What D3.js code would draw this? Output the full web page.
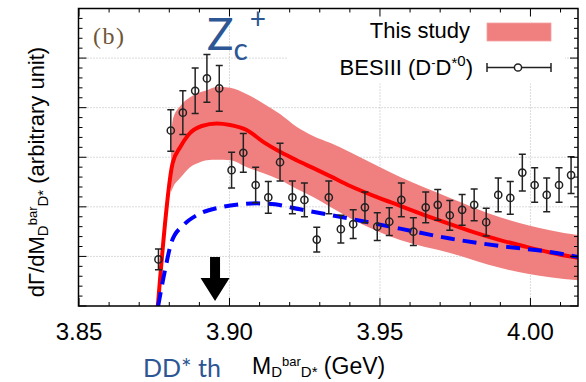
<!DOCTYPE html>
<html>
<head>
<meta charset="utf-8">
<script src="https://cdn.jsdelivr.net/npm/d3@7"></script>
<style>
  body { margin: 0; background: #fff; }
  svg { display: block; }
</style>
</head>
<body>
<svg id="chart" width="586" height="382"></svg>
<script>
// BESIII D-D*0 invariant-mass spectrum (GeV, arbitrary units)
const massBins = [3.8764, 3.8805, 3.8845, 3.8886, 3.8925, 3.8966, 3.9007, 3.9046, 3.9087, 3.9129,
                  3.9168, 3.9209, 3.9249, 3.9290, 3.9330, 3.9370, 3.9411, 3.9450, 3.9491, 3.9531,
                  3.9571, 3.9611, 3.9652, 3.9692, 3.9732, 3.9773, 3.9813, 3.9853, 3.9893, 3.9933,
                  3.9973, 4.0014, 4.0054, 4.0095, 4.0135];
const besValues = [0.94, 3.54, 3.90, 4.34, 4.59, 4.39, 2.74, 3.09, 2.44, 2.19,
                   2.90, 2.19, 2.14, 1.34, 2.19, 1.55, 1.65, 1.99, 1.60, 1.70,
                   2.14, 1.50, 1.99, 2.04, 1.83, 1.94, 2.04, 1.69, 2.24, 2.18,
                   2.69, 2.44, 2.24, 2.44, 2.64];
const besErrors = [0.21, 0.42, 0.44, 0.46, 0.48, 0.46, 0.36, 0.39, 0.36, 0.32,
                   0.38, 0.33, 0.34, 0.25, 0.33, 0.28, 0.29, 0.31, 0.28, 0.28,
                   0.34, 0.28, 0.31, 0.31, 0.30, 0.31, 0.32, 0.28, 0.34, 0.33,
                   0.37, 0.35, 0.34, 0.35, 0.37];

// Model: central curve
const fitMass = [3.8762, 3.8811, 3.8836, 3.8863, 3.8908, 3.8958, 3.9002, 3.9057, 3.9112, 3.9168,
                 3.9223, 3.9279, 3.9334, 3.9401, 3.9484, 3.9567, 3.9650, 3.9733, 3.9816, 3.9899,
                 3.9982, 4.0065, 4.0158];
const fitCentral = [0.00, 2.88, 3.20, 3.45, 3.63, 3.68, 3.65, 3.55, 3.31, 3.11,
                    2.94, 2.78, 2.62, 2.42, 2.21, 2.02, 1.83, 1.65, 1.48, 1.33,
                    1.20, 1.08, 0.97];

// Model: uncertainty band
const bandMass = [3.8806, 3.8813, 3.8836, 3.8869, 3.8902, 3.8925, 3.8959, 3.9002, 3.9058, 3.9111,
                  3.9168, 3.9224, 3.9278, 3.9334, 3.9401, 3.9567, 3.9733, 3.9899, 4.0065, 4.0158];
const bandUpper = [3.49, 3.79, 4.03, 4.21, 4.31, 4.35, 4.42, 4.40, 4.27, 4.09,
                   3.87, 3.61, 3.43, 3.29, 3.10, 2.60, 2.18, 1.79, 1.53, 1.43];
const bandLower = [2.30, 2.40, 2.58, 2.80, 2.90, 2.94, 2.95, 2.94, 2.80, 2.68,
                   2.54, 2.36, 2.20, 2.00, 1.77, 1.33, 1.07, 0.77, 0.58, 0.52];

// Model: background-only (dashed)
const bgMass = [3.8763, 3.8786, 3.8808, 3.8847, 3.8891, 3.8969, 3.9035, 3.9091, 3.9151, 3.9234,
                3.9401, 3.9567, 3.9733, 3.9899, 4.0065, 4.0158];
const bgValues = [0.00, 0.73, 1.30, 1.63, 1.83, 1.99, 2.05, 2.07, 2.05, 1.95,
                  1.76, 1.56, 1.36, 1.21, 1.09, 0.99];

const xMajorTicks = [3.85, 3.90, 3.95, 4.00];
const xTickLabels = ["3.85", "3.90", "3.95", "4.00"];
const yMajorTicks = [0, 1, 2, 3, 4, 5, 6];
const arrowMass = 3.8952;

const svg = d3.select("#chart");
const plotLeft = 78.5, plotRight = 578, plotTop = 8.5, plotBottom = 306;

const x = d3.scaleLinear().domain([3.85, 4.0158]).range([plotLeft + 0.5, plotRight]);
const y = d3.scaleLinear().domain([0, 6]).range([plotBottom, plotTop]);

svg.append("defs").append("clipPath").attr("id", "plotClip")
  .append("rect").attr("x", plotLeft).attr("y", plotTop)
  .attr("width", plotRight - plotLeft).attr("height", plotBottom - plotTop);

// grid
const grid = svg.append("g").attr("stroke", "#b5b5b5").attr("stroke-width", 1)
  .attr("stroke-dasharray", "1,2");
xMajorTicks.slice(1).forEach(t => {
  grid.append("line").attr("x1", x(t)).attr("x2", x(t)).attr("y1", plotTop).attr("y2", plotBottom);
});
yMajorTicks.slice(1, -1).forEach(t => {
  grid.append("line").attr("x1", plotLeft).attr("x2", plotRight).attr("y1", y(t)).attr("y2", y(t));
});

// legend background hides the grid behind the key
svg.append("rect").attr("x", 288).attr("y", plotTop + 1).attr("width", 277).attr("height", 74)
  .attr("fill", "#fff");

const plot = svg.append("g").attr("clip-path", "url(#plotClip)");

// uncertainty band
const bandData = bandMass.map((m, i) => ({ m, hi: bandUpper[i], lo: bandLower[i] }));
plot.append("path").datum(bandData)
  .attr("fill", "#f08080")
  .attr("d", d3.area().x(d => x(d.m)).y0(d => y(d.lo)).y1(d => y(d.hi)).curve(d3.curveMonotoneX));

// central curve
plot.append("path").datum(fitMass.map((m, i) => [m, fitCentral[i]]))
  .attr("fill", "none").attr("stroke", "#ff0000").attr("stroke-width", 4)
  .attr("stroke-linejoin", "round")
  .attr("d", d3.line().x(d => x(d[0])).y(d => y(d[1])).curve(d3.curveMonotoneX));

// dashed curve
plot.append("path").datum(bgMass.map((m, i) => [m, bgValues[i]]))
  .attr("fill", "none").attr("stroke", "#0000ff").attr("stroke-width", 4)
  .attr("stroke-dasharray", "14,8")
  .attr("d", d3.line().x(d => x(d[0])).y(d => y(d[1])).curve(d3.curveMonotoneX));

// data points with error bars
const pts = plot.append("g").attr("stroke", "#222").attr("stroke-width", 1.5).attr("fill", "none");
massBins.forEach((m, i) => {
  const cx = x(m), v = besValues[i], e = besErrors[i];
  pts.append("line").attr("x1", cx).attr("x2", cx).attr("y1", y(v + e)).attr("y2", y(v - e));
  pts.append("line").attr("x1", cx - 3.5).attr("x2", cx + 3.5).attr("y1", y(v + e)).attr("y2", y(v + e));
  pts.append("line").attr("x1", cx - 3.5).attr("x2", cx + 3.5).attr("y1", y(v - e)).attr("y2", y(v - e));
  pts.append("circle").attr("cx", cx).attr("cy", y(v)).attr("r", 3.6);
});

// arrow marking the peak position
const ax = x(arrowMass);
svg.append("path")
  .attr("d", `M${ax - 5},257 L${ax + 5},257 L${ax + 5},278 L${ax + 14.5},278 L${ax},301 L${ax - 14.5},278 L${ax - 5},278 Z`)
  .attr("fill", "#000");

// axis ticks (all four sides)
const ticks = svg.append("g").attr("stroke", "#000").attr("stroke-width", 1);
d3.range(3.85, 4.0158, 0.01).forEach(t => {
  const major = xMajorTicks.some(mt => Math.abs(mt - t) < 1e-6);
  const len = major ? 8 : 4;
  ticks.append("line").attr("x1", x(t)).attr("x2", x(t)).attr("y1", plotBottom).attr("y2", plotBottom - len);
  ticks.append("line").attr("x1", x(t)).attr("x2", x(t)).attr("y1", plotTop).attr("y2", plotTop + len);
});
d3.range(0, 6.01, 0.2).forEach(t => {
  const major = Math.abs(t - Math.round(t)) < 1e-6;
  const len = major ? 8 : 4;
  ticks.append("line").attr("x1", plotLeft).attr("x2", plotLeft + len).attr("y1", y(t)).attr("y2", y(t));
  ticks.append("line").attr("x1", plotRight).attr("x2", plotRight - len).attr("y1", y(t)).attr("y2", y(t));
});

// frame
svg.append("rect").attr("x", plotLeft).attr("y", plotTop)
  .attr("width", plotRight - plotLeft).attr("height", plotBottom - plotTop)
  .attr("fill", "none").attr("stroke", "#000").attr("stroke-width", 1.5);

// tick labels
svg.append("g").selectAll("text").data(xMajorTicks).join("text")
  .attr("x", d => x(d)).attr("y", 340)
  .attr("text-anchor", "middle")
  .attr("font-family", "Liberation Sans, Arial, sans-serif").attr("font-size", 24)
  .attr("fill", "#000")
  .text((d, i) => xTickLabels[i]);

// x-axis title
const xt = svg.append("text").attr("x", 252).attr("y", 374)
  .attr("font-family", "Liberation Sans, Arial, sans-serif").attr("font-size", 23).attr("fill", "#000");
xt.append("tspan").text("M");
xt.append("tspan").attr("dy", 3).attr("font-size", 15).text("D");
xt.append("tspan").attr("dy", -11).attr("font-size", 13).text("bar");
xt.append("tspan").attr("dy", 11).attr("font-size", 15).text("D*");
xt.append("tspan").attr("dy", -3).text(" (GeV)");

// y-axis title
const yt = svg.append("text").attr("transform", "translate(44,172) rotate(-90)")
  .attr("text-anchor", "middle")
  .attr("font-family", "Liberation Sans, Arial, sans-serif").attr("font-size", 22).attr("fill", "#000");
yt.append("tspan").text("dΓ/dM");
yt.append("tspan").attr("dy", 4).attr("font-size", 15).text("D");
yt.append("tspan").attr("dy", -11).attr("font-size", 13).text("bar");
yt.append("tspan").attr("dy", 11).attr("font-size", 15).text("D*");
yt.append("tspan").attr("dy", -4).text(" (arbitrary unit)");

// panel label
svg.append("text").attr("x", 93).attr("y", 44)
  .attr("font-family", "Liberation Serif, Times New Roman, serif").attr("font-size", 24)
  .attr("letter-spacing", 1.5)
  .attr("fill", "#6e5638").text("(b)");

// legend
const legFont = "Liberation Sans, Arial, sans-serif";
svg.append("text").attr("x", 470).attr("y", 38).attr("text-anchor", "end")
  .attr("font-family", legFont).attr("font-size", 22).attr("fill", "#000").text("This study");
svg.append("rect").attr("x", 487).attr("y", 23).attr("width", 64).attr("height", 18)
  .attr("fill", "#f08080").attr("stroke", "#f4a0a0").attr("stroke-width", 0.8);

const lb = svg.append("text").attr("x", 473).attr("y", 75).attr("text-anchor", "end")
  .attr("font-family", legFont).attr("font-size", 22).attr("fill", "#000");
lb.append("tspan").text("BESIII (D");
lb.append("tspan").attr("dy", -8).attr("font-size", 13).text("-");
lb.append("tspan").attr("dy", 8).text("D");
lb.append("tspan").attr("dy", -7).attr("font-size", 15).text("*");
lb.append("tspan").attr("dy", -2).attr("font-size", 15).text("0");
lb.append("tspan").attr("dy", 9).text(")");

const lg = svg.append("g").attr("stroke", "#222").attr("stroke-width", 1.5).attr("fill", "none");
lg.append("line").attr("x1", 487).attr("x2", 551).attr("y1", 67.5).attr("y2", 67.5);
lg.append("line").attr("x1", 487).attr("x2", 487).attr("y1", 63).attr("y2", 72);
lg.append("line").attr("x1", 551).attr("x2", 551).attr("y1", 63).attr("y2", 72);
lg.append("circle").attr("cx", 518).attr("cy", 67.5).attr("r", 3.6).attr("fill", "#fff");

// annotations
const noteFont = "Lato, Calibri, 'Open Sans', sans-serif";
const zc = svg.append("text").attr("x", 207).attr("y", 50)
  .attr("font-family", noteFont).attr("font-size", 44).attr("fill", "#2c5694");
zc.append("tspan").text("Z");
zc.append("tspan").attr("dy", 10).attr("font-size", 30).text("c");
zc.append("tspan").attr("dx", 2).attr("dy", -31).attr("font-size", 28).text("+");

svg.append("text").attr("x", 143).attr("y", 377)
  .attr("font-family", noteFont).attr("font-size", 25).attr("fill", "#2c5694").text("DD* th");
</script>
</body>
</html>
